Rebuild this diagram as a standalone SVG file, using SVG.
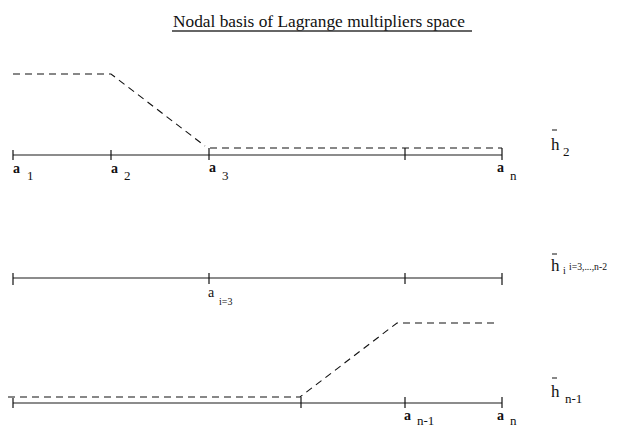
<svg xmlns="http://www.w3.org/2000/svg" width="633" height="427" viewBox="0 0 633 427">
<style>
.ax{stroke:#1a1a1a;stroke-width:1.2;fill:none}
.tk{stroke:#111;stroke-width:1.2}
.ds{stroke:#111;stroke-width:1.1;fill:none;stroke-dasharray:7 5}
.bar{stroke:#111;stroke-width:1}
text{font-family:'Liberation Serif','Times New Roman',serif;fill:#111}
.a{font-size:14px;font-weight:bold}
.s{font-size:13px}
.h{font-size:17px}
.ss{font-size:10px}
.title{font-size:16.5px}
</style>
<g id="title" font-family="Liberation Serif, serif">
<text class="title" x="173" y="27" textLength="292" lengthAdjust="spacingAndGlyphs" font-family="Liberation Serif, serif">Nodal basis of Lagrange multipliers space</text>
<line x1="172" y1="31" x2="472" y2="31" stroke="#333" stroke-width="1.3"/>
</g>
<g id="row1" font-family="Liberation Serif, serif">
<line class="ax" x1="13" y1="155" x2="502" y2="155"/>
<line class="tk" x1="13" y1="150" x2="13" y2="160"/>
<line class="tk" x1="111" y1="150" x2="111" y2="160"/>
<line class="tk" x1="209" y1="148" x2="209" y2="160"/>
<line class="tk" x1="405" y1="148" x2="405" y2="160"/>
<line class="tk" x1="502" y1="148" x2="502" y2="160"/>
<polyline class="ds" points="13,74 111,74 205,146"/>
<line class="ds" x1="210" y1="148" x2="502" y2="148"/>
<text class="a" x="13" y="173">a</text><text class="s" x="27" y="180">1</text>
<text class="a" x="111" y="173">a</text><text class="s" x="124" y="180">2</text>
<text class="a" x="209" y="172">a</text><text class="s" x="222" y="180">3</text>
<text class="a" x="497" y="172">a</text><text class="s" x="510" y="180">n</text>
<line class="bar" x1="552" y1="130" x2="557" y2="130"/>
<text class="h" x="551" y="150">h</text><text class="s" x="563" y="156">2</text>
</g>
<g id="row2" font-family="Liberation Serif, serif">
<line class="ax" x1="13" y1="278" x2="502" y2="278"/>
<line class="tk" x1="13" y1="273" x2="13" y2="285"/>
<line class="tk" x1="209" y1="273" x2="209" y2="284"/>
<line class="tk" x1="405" y1="273" x2="405" y2="284"/>
<line class="tk" x1="502" y1="273" x2="502" y2="285"/>
<text font-size="14" x="208" y="297">a</text><text class="ss" x="219" y="305">i=3</text>
<line class="bar" x1="552" y1="254" x2="557" y2="254"/>
<text class="h" x="551" y="271">h</text><text class="ss" x="563" y="274">i</text>
<text class="ss" x="569" y="270" textLength="38" lengthAdjust="spacingAndGlyphs">i=3,...,n-2</text>
</g>
<g id="row3" font-family="Liberation Serif, serif">
<line class="ax" x1="13" y1="403" x2="502" y2="403"/>
<line class="tk" x1="13" y1="398" x2="13" y2="408"/>
<line class="tk" x1="301" y1="397" x2="301" y2="408"/>
<line class="tk" x1="405" y1="397" x2="405" y2="408"/>
<line class="tk" x1="502" y1="397" x2="502" y2="408"/>
<polyline class="ds" points="8,397 300,397 397,323 497,323"/>
<text class="a" x="404" y="420">a</text><text class="s" font-size="12" x="417" y="425">n-1</text>
<text class="a" x="497" y="420">a</text><text class="s" font-size="12" x="510" y="425">n</text>
<line class="bar" x1="552" y1="378" x2="557" y2="378"/>
<text class="h" x="551" y="397">h</text><text class="s" x="565" y="403">n-1</text>
</g>
</svg>
